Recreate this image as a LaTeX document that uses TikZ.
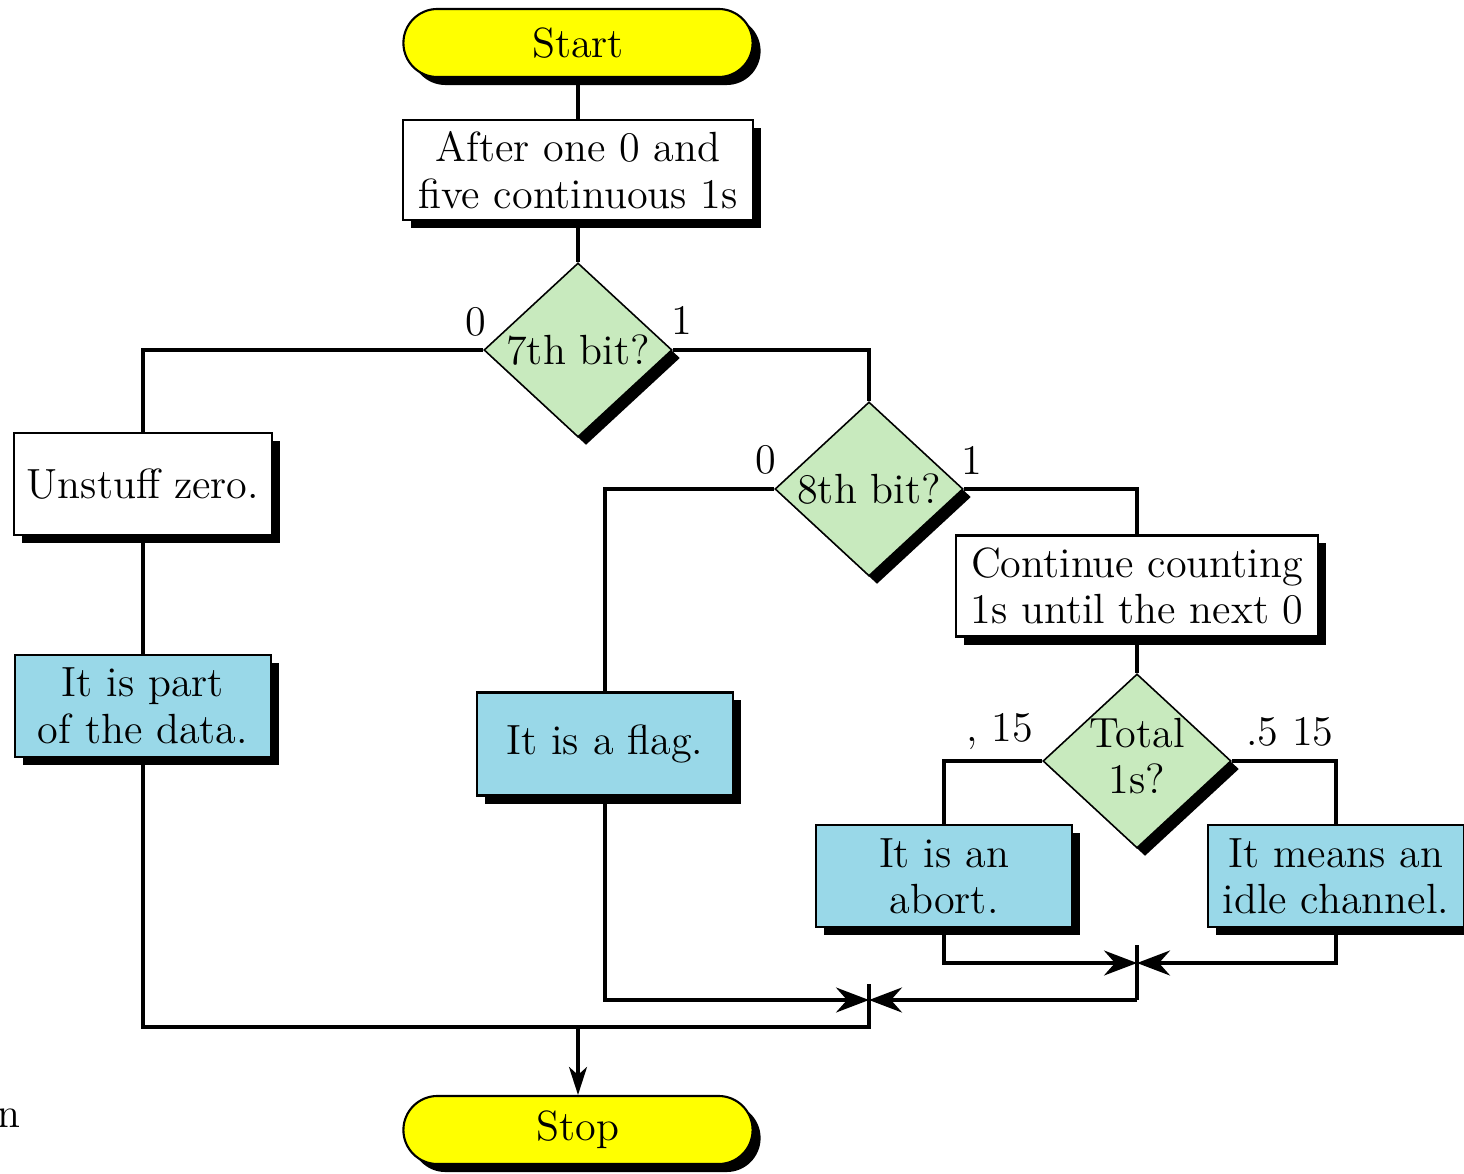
\documentclass[tikz,border=0pt]{standalone}
\usetikzlibrary{shapes.geometric,arrows.meta,shadows}
\definecolor{termyellow}{RGB}{255,255,0}
\definecolor{decgreen}{RGB}{200,234,190}
\definecolor{outblue}{RGB}{153,216,232}
\begin{document}
\begin{tikzpicture}[x=0.01cm,y=-0.01cm,
  every node/.style={font=\fontsize{12}{13.2}\selectfont},
  shad/.style={drop shadow={shadow xshift=0.08cm,shadow yshift=-0.08cm,fill=black,opacity=1}},
  term/.style={draw,line width=0.6pt,fill=termyellow,rounded corners=0.34cm,minimum width=3.49cm,minimum height=0.68cm,inner sep=0pt,shad},
  procbox/.style={draw,line width=0.6pt,fill=white,inner sep=0pt,align=center,shad},
  outbox/.style={procbox,fill=outblue},
  dec/.style={draw,line width=0.45pt,diamond,fill=decgreen,inner sep=0pt,minimum width=1.88cm,minimum height=1.74cm,shad},
  conn/.style={line width=0.9pt},
  tip/.style={-{Stealth[length=0.33cm,width=0.25cm,inset=0.11cm]}},
  lbl/.style={inner sep=0pt}
]
\useasboundingbox (0,0) rectangle (1464,1173);
% nodes
\node[term] (start) at (578,43) {Start};
\node[procbox,minimum width=3.50cm,minimum height=1.00cm] (after) at (578,170) {After one 0 and\\five continuous 1s};
\node[dec] (d7) at (578,350) {\makebox[0pt]{7th bit?}};
\node[procbox,minimum width=2.57cm,minimum height=1.02cm] (unstuff) at (143,484) {Unstuff zero.};
\node[outbox,minimum width=2.56cm,minimum height=1.02cm] (data) at (143,706) {It is part\\of the data.};
\node[dec] (d8) at (869,489) {\makebox[0pt]{8th bit?}};
\node[outbox,minimum width=2.55cm,minimum height=1.03cm] (flag) at (605,744) {It is a flag.};
\node[procbox,minimum width=3.61cm,minimum height=1.01cm] (cont) at (1137,586) {Continue counting\\1s until the next 0};
\node[dec] (tot) at (1137,761) {\makebox[0pt]{\begin{tabular}{@{}c@{}}Total\\1s?\end{tabular}}};
\node[outbox,minimum width=2.56cm,minimum height=1.02cm] (abort) at (944,876) {It is an\\abort.};
\node[outbox,minimum width=2.56cm,minimum height=1.02cm] (idle) at (1336,876) {It means an\\idle channel.};
\node[term] (stop) at (578,1130) {Stop};
% labels
\node[lbl] (l70) at (476,322) {0};
\node[lbl] (l71) at (682,320) {1};
\node[lbl] (l80) at (766,460) {0};
\node[lbl] (l81) at (972,460) {1};
\node[lbl] (lt0) at (1000,732) {, 15};
\node[lbl] (lt1) at (1290,732) {.5 15};
\node[lbl,anchor=west] (nn) at (-3,1118) {n};
% merge coordinates
\coordinate (m1) at (869,1000);
\coordinate (m1top) at (869,984);
\coordinate (m1bot) at (869,1027);
\coordinate (m2) at (1137,963);
\coordinate (m2top) at (1137,945);
\coordinate (m2bot) at (1137,1000);
\coordinate (sj) at (578,1027);
% connectors
\draw[conn] (start) -- (after);
\draw[conn] (after) -- (d7);
\draw[conn] (d7.west) -| (unstuff.north);
\draw[conn] (unstuff) -- (data);
\draw[conn] (d7.east) -| (d8.north);
\draw[conn] (d8.west) -| (flag.north);
\draw[conn] (d8.east) -| (cont.north);
\draw[conn] (cont) -- (tot);
\draw[conn] (tot.west) -| (abort.north);
\draw[conn] (tot.east) -| (idle.north);
\draw[conn] (data.south) |- (m1bot) -- (m1top);
\draw[conn,tip] (flag.south) |- (m1);
\draw[conn] (m2top) -- (m2bot);
\draw[conn,tip] (m2bot) -- (m1);
\draw[conn,tip] (abort.south) |- (m2);
\draw[conn,tip] (idle.south) |- (m2);
\draw[conn,-{Stealth[length=0.28cm,width=0.18cm,inset=0.08cm]}] (sj) -- (stop.north);
\end{tikzpicture}
\end{document}
